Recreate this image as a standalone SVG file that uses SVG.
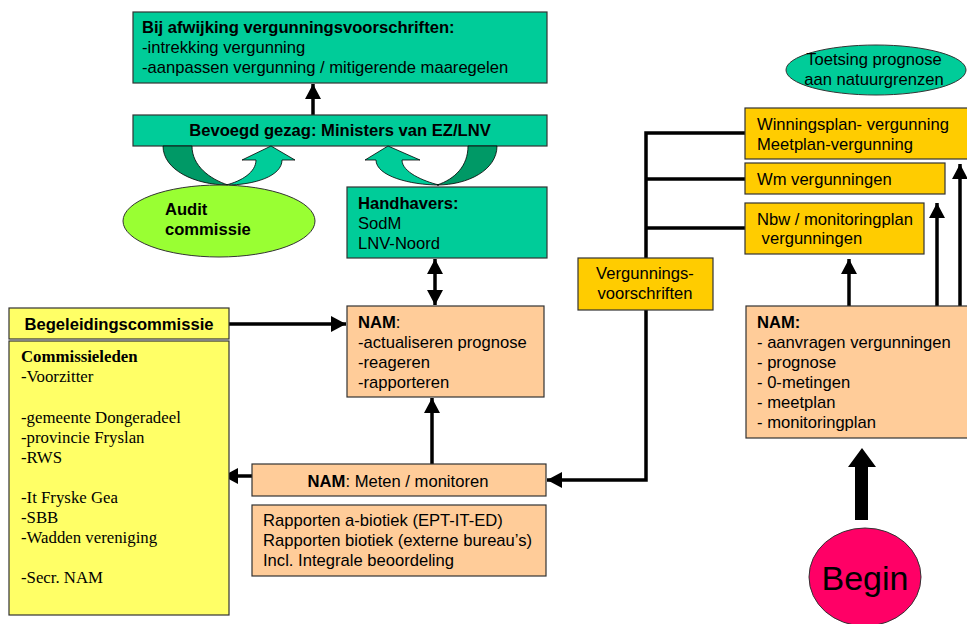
<svg xmlns="http://www.w3.org/2000/svg" width="967" height="624" viewBox="0 0 967 624">
<style>
.box{stroke:#333;stroke-width:1.2}
.g{fill:#00CC99}
.o{fill:#FFCC99}
.y{fill:#FFCC00}
.ly{fill:#FFFF66}
.t{font-family:"Liberation Sans",Arial,sans-serif;font-size:16.6px;fill:#000}
.b{font-weight:bold}
.tm{font-family:"Liberation Serif","Times New Roman",serif;font-size:16.8px;fill:#000}
.ln{stroke:#000;stroke-width:3.5;fill:none}
</style>
<defs>
<marker id="ah" markerUnits="userSpaceOnUse" markerWidth="16" markerHeight="16" refX="15" refY="8" orient="auto-start-reverse">
<path d="M0,0 L15,8 L0,16 Z" fill="#000"/>
</marker>
</defs>
<rect width="967" height="624" fill="#fff"/>

<g id="connectors">
<line class="ln" x1="313" y1="115" x2="313" y2="84" marker-end="url(#ah)"/>
<line class="ln" x1="435" y1="259" x2="435" y2="305" marker-start="url(#ah)" marker-end="url(#ah)"/>
<line class="ln" x1="229" y1="324" x2="346" y2="324" marker-end="url(#ah)"/>
<line class="ln" x1="432" y1="464" x2="432" y2="398" marker-end="url(#ah)"/>
<line class="ln" x1="263" y1="476" x2="223" y2="476" marker-end="url(#ah)"/>
<polyline class="ln" points="745,133 646,133 646,480 547,480" marker-end="url(#ah)"/>
<line class="ln" x1="646" y1="179" x2="745" y2="179"/>
<line class="ln" x1="646" y1="228" x2="745" y2="228"/>
<line class="ln" x1="849" y1="306" x2="849" y2="259" marker-end="url(#ah)"/>
<line class="ln" x1="937" y1="306" x2="937" y2="203" marker-end="url(#ah)"/>
<line class="ln" x1="960" y1="306" x2="960" y2="164" marker-end="url(#ah)"/>
<path d="M855,520 L855,467 L848,467 L862,448 L876,467 L868,467 L868,520 Z" fill="#000"/>
</g>

<g id="afwijking">
<rect class="box g" x="133" y="12" width="414" height="71"/>
<text class="t b" x="142" y="33">Bij afwijking vergunningsvoorschriften:</text>
<text class="t" x="142" y="53">-intrekking vergunning</text>
<text class="t" x="142" y="73">-aanpassen vergunning / mitigerende maaregelen</text>
</g>

<g id="bevoegd">
<rect class="box g" x="133" y="115" width="414" height="31"/>
<text class="t b" x="340" y="136" text-anchor="middle">Bevoegd gezag: Ministers van EZ/LNV</text>
</g>

<g id="curved-left">
<path d="M163,146 C163,170 195,185 228,185 C210,179 192,166 192,146 Z" fill="#009966" stroke="#000" stroke-width="0.8"/>
<path d="M226,185 C255,185 282,176 282,160 L295,160 L271,146 L242,160 L256,160 C256,172 242,181 226,185 Z" fill="#00CC99" stroke="#000" stroke-width="0.8"/>
</g>

<g id="curved-right">
<path d="M497,146 C497,170 468,185 437,185 C455,179 468,166 468,146 Z" fill="#009966" stroke="#000" stroke-width="0.8"/>
<path d="M439,185 C410,185 376,176 376,160 L365,160 L388,146 L420,160 L402,160 C402,172 423,181 439,185 Z" fill="#00CC99" stroke="#000" stroke-width="0.8"/>
</g>

<g id="audit">
<ellipse cx="219" cy="221" rx="96" ry="36" fill="#99FF33" stroke="#333" stroke-width="1"/>
<text class="t b" x="165" y="215">Audit</text>
<text class="t b" x="165" y="235">commissie</text>
</g>

<g id="handhavers">
<rect class="box g" x="347" y="187" width="200" height="71"/>
<text class="t b" x="358" y="209">Handhavers:</text>
<text class="t" x="358" y="229">SodM</text>
<text class="t" x="358" y="249">LNV-Noord</text>
</g>

<g id="nam-mid">
<rect class="box o" x="347" y="306" width="197" height="91"/>
<text class="t" x="358" y="328"><tspan class="b">NAM</tspan>:</text>
<text class="t" x="358" y="348">-actualiseren prognose</text>
<text class="t" x="358" y="368">-reageren</text>
<text class="t" x="358" y="388">-rapporteren</text>
</g>

<g id="begeleiding">
<rect class="box ly" x="9" y="308" width="220" height="31"/>
<text class="t b" x="119" y="330" text-anchor="middle">Begeleidingscommissie</text>
</g>

<g id="commissieleden">
<rect class="box ly" x="9" y="341" width="220" height="274"/>
<text class="tm b" x="21" y="362">Commissieleden</text>
<text class="tm" x="21" y="382">-Voorzitter</text>
<text class="tm" x="21" y="423">-gemeente Dongeradeel</text>
<text class="tm" x="21" y="443">-provincie Fryslan</text>
<text class="tm" x="21" y="463">-RWS</text>
<text class="tm" x="21" y="503">-It Fryske Gea</text>
<text class="tm" x="21" y="523">-SBB</text>
<text class="tm" x="21" y="543">-Wadden vereniging</text>
<text class="tm" x="21" y="583">-Secr. NAM</text>
</g>

<g id="meten">
<rect class="box o" x="252" y="464" width="294" height="32"/>
<text class="t" x="398" y="487" text-anchor="middle"><tspan class="b">NAM</tspan>: Meten / monitoren</text>
</g>

<g id="rapporten">
<rect class="box o" x="252" y="505" width="294" height="71"/>
<text class="t" x="263" y="526">Rapporten a-biotiek (EPT-IT-ED)</text>
<text class="t" x="263" y="546">Rapporten biotiek (externe bureau’s)</text>
<text class="t" x="263" y="566">Incl. Integrale beoordeling</text>
</g>

<g id="vergunningsvoorschriften">
<rect class="box y" x="578" y="258" width="135" height="52"/>
<text class="t" x="645" y="279" text-anchor="middle">Vergunnings-</text>
<text class="t" x="645" y="299" text-anchor="middle">voorschriften</text>
</g>

<g id="toetsing">
<ellipse cx="876" cy="70" rx="90" ry="25" fill="#00CC99" stroke="#333" stroke-width="1"/>
<text class="t" x="874" y="65" text-anchor="middle">Toetsing prognose</text>
<text class="t" x="874" y="85" text-anchor="middle">aan natuurgrenzen</text>
</g>

<g id="winningsplan">
<rect class="box y" x="745" y="108" width="235" height="51"/>
<text class="t" x="757" y="130">Winningsplan- vergunning</text>
<text class="t" x="757" y="150">Meetplan-vergunning</text>
</g>

<g id="wm">
<rect class="box y" x="745" y="163" width="200" height="31"/>
<text class="t" x="757" y="185">Wm vergunningen</text>
</g>

<g id="nbw">
<rect class="box y" x="745" y="203" width="179" height="51"/>
<text class="t" x="757" y="225">Nbw / monitoringplan</text>
<text class="t" x="757" y="244" xml:space="preserve"> vergunningen</text>
</g>

<g id="nam-right">
<rect class="box o" x="746" y="306" width="235" height="132"/>
<text class="t b" x="757" y="328">NAM:</text>
<text class="t" x="757" y="348">- aanvragen vergunningen</text>
<text class="t" x="757" y="368">- prognose</text>
<text class="t" x="757" y="388">- 0-metingen</text>
<text class="t" x="757" y="408">- meetplan</text>
<text class="t" x="757" y="428">- monitoringplan</text>
</g>

<g id="begin">
<ellipse cx="865" cy="577" rx="56" ry="49" fill="#FF0066" stroke="#333" stroke-width="1"/>
<text x="865" y="590" text-anchor="middle" font-family="Liberation Sans, Arial, sans-serif" font-size="34" fill="#000">Begin</text>
</g>
</svg>
